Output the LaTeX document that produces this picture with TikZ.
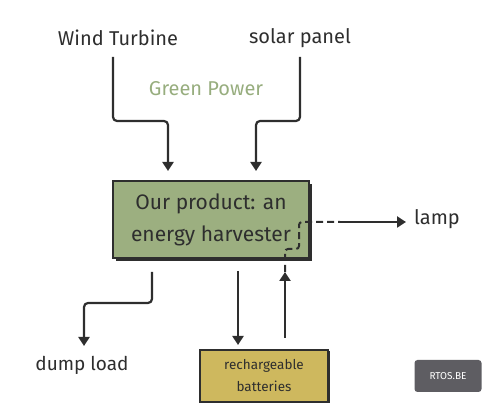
\documentclass[tikz,border=0pt]{standalone}
\usepackage{fontspec}
\setmainfont{Fira Sans}
\usetikzlibrary{arrows.meta,shadows}
\definecolor{ink}{HTML}{2E2E2E}
\definecolor{sage}{HTML}{9CAF80}
\definecolor{gold}{HTML}{CEB85E}
\definecolor{greentext}{HTML}{97AD7E}
\definecolor{badge}{HTML}{5E5D62}
\tikzset{
  lbl/.style={font=\fontsize{20}{22}\selectfont, text=ink, inner sep=1pt},
  conn/.style={draw=ink, line width=2.2pt, rounded corners=4pt, -{Triangle[length=9pt,width=11pt]}},
  mainbox/.style={draw=ink, line width=2pt, fill=sage, minimum width=196pt, minimum height=77pt,
     drop shadow={shadow xshift=3pt, shadow yshift=-3pt, opacity=1, fill=ink}},
  battbox/.style={draw=ink, line width=1.6pt, fill=gold, minimum width=128pt, minimum height=52pt,
     drop shadow={shadow xshift=1.5pt, shadow yshift=-1.5pt, opacity=1, fill=ink}},
}
\begin{document}
\begin{tikzpicture}[x=1pt,y=-1pt]
\useasboundingbox (0,0) rectangle (491,411);
\node[lbl] (wind) at (118,38) {Wind Turbine};
\node[lbl] (solar) at (300,38) {solar panel};
\node[font=\fontsize{20}{22}\selectfont, text=greentext] (green) at (206,89) {Green Power};
\node[mainbox, align=center, font=\fontsize{21}{32}\selectfont, text=ink] (main) at (211,220) {Our product: an\\energy harvester};
\node[lbl] (lamp) at (437,219) {lamp};
\node[lbl, font=\fontsize{19}{22}\selectfont] (dump) at (82,365) {dump load};
\node[battbox, align=center, font=\fontsize{13.5}{22}\selectfont, text=ink] (batt) at (264,376) {rechargeable\\batteries};
\node[fill=badge, rounded corners=3pt, minimum width=67pt, minimum height=32pt, text=white, font=\fontsize{10}{12}\selectfont] (rtos) at (448,376) {RTOS.BE};
% connectors
\coordinate (w0) at (113,57);
\coordinate (s0) at (300,57);
\draw[conn] (w0) -- (113,121) -- (168,121) -- (168,171);
\draw[conn] (s0) -- (300,121) -- (256,121) -- (256,171);
\draw[conn] (152,272) -- (152,303) -- (84,303) -- (84,346);
\draw[conn] (238,271) -- (238,345);
\draw[conn] (285,338) -- (285,272);
\draw[ink, line width=2pt, dashed, dash pattern=on 7pt off 4pt, rounded corners=3pt] (285,272) -- (285,249) -- (299,249) -- (299,222) -- (340,222);
\draw[conn, rounded corners=0pt] (338,222) -- (406,222);
\end{tikzpicture}
\end{document}
